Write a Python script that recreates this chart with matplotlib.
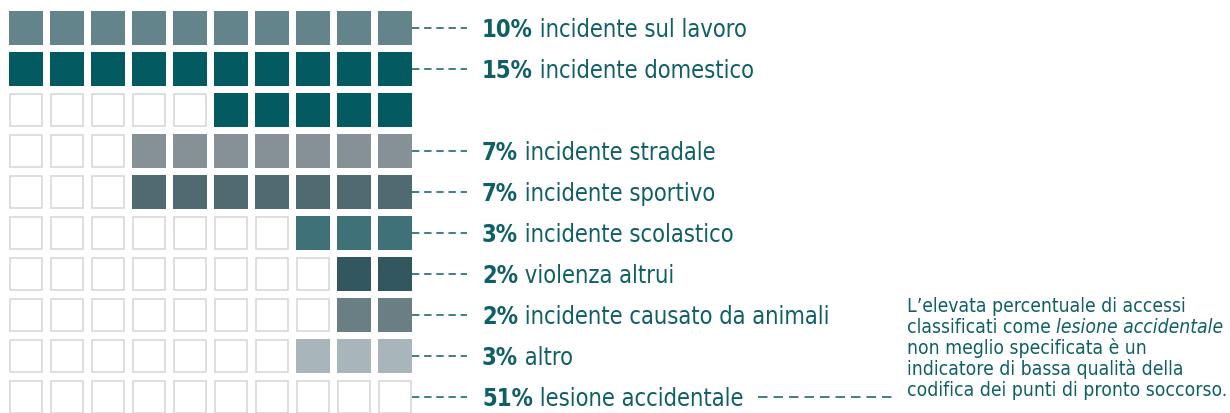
import numpy as np
import matplotlib
matplotlib.use("Agg")
from matplotlib import pyplot as plt
from matplotlib.patches import Rectangle

plt.rcParams['font.family'] = ['DejaVu Sans']
plt.rcParams['font.stretch'] = 'condensed'

# data: share of accesses by cause (percent)
pcts = [10, 15, 7, 7, 3, 2, 2, 3]
labels = ["incidente sul lavoro", "incidente domestico", "incidente stradale",
          "incidente sportivo", "incidente scolastico", "violenza altrui",
          "incidente causato da animali", "altro"]
colors = ["#63848b", "#035b61", "#859196", "#4f6a70",
          "#3f7278", "#33575e", "#6a7f84", "#a8b6bc"]
rest_pct = 51
rest_label = "lesione accidentale"
note_lines = ["L’elevata percentuale di accessi",
              "classificati come ",
              "non meglio specificata è un",
              "indicatore di bassa qualità della",
              "codifica dei punti di pronto soccorso."]
note_italic = "lesione accidentale"

TEXT = "#0f5f66"
DASH = "#1d6a71"
EMPTY_EDGE = "#d4d4d4"

W, H = 1230, 414
cell = 41.0      # px per grid step
sq = 34.0 / cell  # square size in cells
x0, y0 = 9.0, 12.0

fig = plt.figure(figsize=(W / 100, H / 100), dpi=100)
ax = fig.add_axes([0, 0, 1, 1])
ax.set_xlim(-x0 / cell, (W - x0) / cell)
ax.set_ylim((H - y0) / cell, -y0 / cell)
ax.axis('off')

# lay out the waffle: each category starts a new row, filled from the right
ncol = 10
rows = []          # list of (row index, category index, count)
label_rows = []
r = 0
for k, p in enumerate(pcts):
    label_rows.append(r)
    left = p
    while left > 0:
        n = min(ncol, left)
        rows.append((r, k, n))
        left -= n
        r += 1
nrows = max(r + 1, 10)
filled = {}
for rr, k, n in rows:
    for c in range(ncol - n, ncol):
        filled[(rr, c)] = k

ins = 0.75 / cell
for rr in range(nrows):
    for c in range(ncol):
        if (rr, c) in filled:
            ax.add_patch(Rectangle((c, rr), sq, sq, facecolor=colors[filled[(rr, c)]],
                                   edgecolor='none'))
        else:
            ax.add_patch(Rectangle((c + ins, rr + ins), sq - 2 * ins, sq - 2 * ins,
                                   facecolor='white', edgecolor=EMPTY_EDGE, lw=1.1))

dash_x0 = (ncol - 1) + sq
dash_x1 = (467 - x0) / cell
txt_x = (482 - x0) / cell
fs = 17


def label(row, pct, name):
    yc = row + sq / 2
    ax.plot([dash_x0, dash_x1], [yc, yc], color=DASH, lw=1.2, dashes=(4.4, 2.9))
    b = ax.text(txt_x, yc + 0.02, f"{pct}%", fontsize=fs, fontweight='bold',
                color=TEXT, va='center', ha='left')
    ax.annotate(" " + name, xy=(1, 0), xycoords=b, va='bottom', ha='left',
                fontsize=fs, color=TEXT)
    return b


for k, p in enumerate(pcts):
    label(label_rows[k], p, labels[k])
last = label(nrows - 1, rest_pct, rest_label)

# dashed leader to the note
yc = nrows - 1 + sq / 2
ax.plot([(758 - x0) / cell, (897 - x0) / cell], [yc, yc], color=DASH, lw=1.2,
        dashes=(5.7, 3.6))

note_x = (907 - x0) / cell
nfs = 13.9
for i, line in enumerate(note_lines):
    yb = (312 + 21 * i - y0) / cell
    t = ax.text(note_x, yb, line, fontsize=nfs, color=TEXT, va='baseline', ha='left')
    if i == 1:
        ax.annotate(note_italic, xy=(1, 0), xycoords=t, va='bottom', ha='left',
                    fontsize=nfs, color=TEXT, style='italic')

fig.savefig("out.png", dpi=100)
